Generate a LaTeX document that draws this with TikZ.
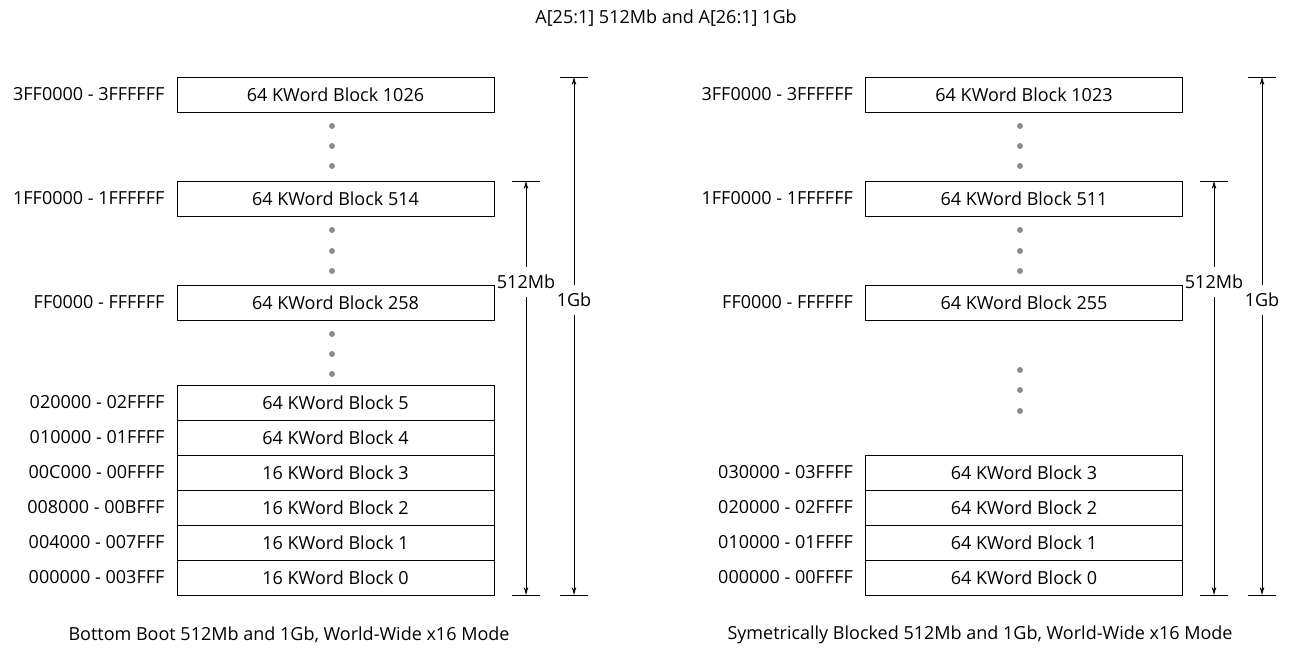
\documentclass[tikz,border=0pt]{standalone}
\usepackage{fontspec}
\setmainfont{Open Sans}
\usetikzlibrary{positioning,arrows.meta}

\tikzset{
  block/.style={draw, line width=0.9pt, minimum width=317pt, minimum height=35pt, inner sep=0pt},
  addr/.style={inner sep=0pt},
  dimline/.style={line width=0.9pt, {Stealth[length=8pt,width=4.5pt]}-{Stealth[length=8pt,width=4.5pt]}},
  tickline/.style={line width=0.9pt},
  dimlbl/.style={fill=white, inner xsep=0pt, inner ysep=8pt},
  dotc/.style={fill=black!45}
}

\begin{document}
\begin{tikzpicture}[x=1pt,y=-1pt,font=\fontsize{18}{21}\selectfont]
    \useasboundingbox (0,0) rectangle (1308,648);
    \node (title) at (666,18) {A[25:1] 512Mb and A[26:1] 1Gb};

    % bottom boot
    \node[block] (L1026) at (335.5,94.5) {64 KWord Block 1026};
    \node[block] (L514) at (335.5,198.5) {64 KWord Block 514};
    \node[block] (L258) at (335.5,302.5) {64 KWord Block 258};
    \node[addr, left=12pt of L1026] {3FF0000 - 3FFFFFF};
    \node[addr, left=12pt of L514] {1FF0000 - 1FFFFFF};
    \node[addr, left=12pt of L258] {FF0000 - FFFFFF};
    \foreach \i/\addr/\txt in {0/000000 - 003FFF/16 KWord Block 0,
        1/004000 - 007FFF/16 KWord Block 1, 2/008000 - 00BFFF/16 KWord Block 2,
        3/00C000 - 00FFFF/16 KWord Block 3, 4/010000 - 01FFFF/64 KWord Block 4,
        5/020000 - 02FFFF/64 KWord Block 5} {
      \node[block] (L\i) at (335.5,577.5-35*\i) {\txt};
      \node[addr, left=12pt of L\i] {\addr};
    }
    \foreach \y in {126,146,166,230,251,271,334,354,374}
      \fill[dotc] (332,\y) circle (3pt);

    \coordinate (La) at (526,181); \coordinate (Lb) at (526,595);
    \coordinate (Lc) at (574,77);  \coordinate (Ld) at (574,595);
    \foreach \c in {La,Lb,Lc,Ld}
      \draw[tickline] (\c) ++(-14,0) -- ++(28,0);
    \draw[dimline] (La) -- node[dimlbl, pos=0.244] {512Mb} (Lb);
    \draw[dimline] (Lc) -- node[dimlbl, pos=0.43] {1Gb} (Ld);
    \node (capL) at (289,635) {Bottom Boot 512Mb and 1Gb, World-Wide x16 Mode};

    % symmetrically blocked
    \node[block] (R1023) at (1024,94.5) {64 KWord Block 1023};
    \node[block] (R511) at (1024,198.5) {64 KWord Block 511};
    \node[block] (R255) at (1024,302.5) {64 KWord Block 255};
    \node[addr, left=12pt of R1023] {3FF0000 - 3FFFFFF};
    \node[addr, left=12pt of R511] {1FF0000 - 1FFFFFF};
    \node[addr, left=12pt of R255] {FF0000 - FFFFFF};
    \foreach \i/\addr in {0/000000 - 00FFFF, 1/010000 - 01FFFF,
        2/020000 - 02FFFF, 3/030000 - 03FFFF} {
      \node[block] (R\i) at (1024,577.5-35*\i) {64 KWord Block \i};
      \node[addr, left=12pt of R\i] {\addr};
    }
    \foreach \y in {126,146,166,230,251,271,370,390,411}
      \fill[dotc] (1020,\y) circle (3pt);

    \coordinate (Ra) at (1214,181); \coordinate (Rb) at (1214,595);
    \coordinate (Rc) at (1262,77);  \coordinate (Rd) at (1262,595);
    \foreach \c in {Ra,Rb,Rc,Rd}
      \draw[tickline] (\c) ++(-14,0) -- ++(28,0);
    \draw[dimline] (Ra) -- node[dimlbl, pos=0.244] {512Mb} (Rb);
    \draw[dimline] (Rc) -- node[dimlbl, pos=0.43] {1Gb} (Rd);
    \node (capR) at (980,635) {Symetrically Blocked 512Mb and 1Gb, World-Wide x16 Mode};
\end{tikzpicture}
\end{document}
